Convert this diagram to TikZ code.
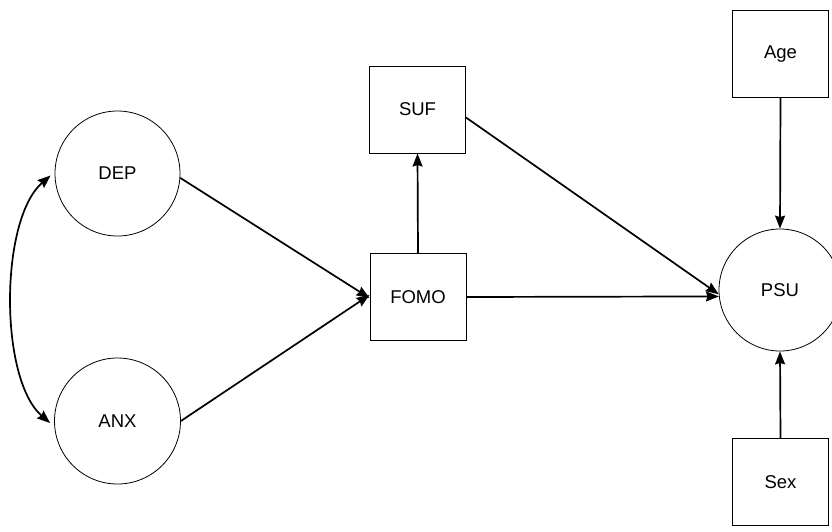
\documentclass[tikz,border=0pt]{standalone}
\usepackage{fontspec}
\setmainfont{Liberation Sans}
\usetikzlibrary{arrows.meta}
\begin{document}
\begin{tikzpicture}[x=1pt,y=-1pt,
  every node/.style={font=\fontsize{18.5}{20}\selectfont, text=black},
  latent/.style={draw, circle, line width=0.8pt, inner sep=0pt},
  observed/.style={draw, rectangle, line width=1pt, inner sep=0pt, minimum width=96pt, minimum height=87pt},
  path/.style={line width=1.7pt, -{Stealth[length=13pt,width=10pt,inset=1.5pt]}},
  cov/.style={line width=1.7pt, {Stealth[length=13pt,width=10pt,inset=1.5pt]}-{Stealth[length=13pt,width=10pt,inset=1.5pt]}}
]
\useasboundingbox (0,0) rectangle (832,531);
\clip (0,0) rectangle (832,531);
\node[latent, minimum size=125pt] (DEP) at (117.5,173.5) {DEP};
\node[latent, minimum size=126pt] (ANX) at (117.5,421) {ANX};
\node[observed] (FOMO) at (418,297) {FOMO};
\node[observed] (SUF) at (417.5,109.5) {SUF};
\node[observed] (Age) at (780.5,54) {Age};
\node[observed] (Sex) at (780.5,482) {Sex};
\node[latent, minimum size=122pt] (PSU) at (780,290) {PSU};

\draw[path] (DEP.-4) -- ([yshift=-1pt]FOMO.west);
\draw[path] (ANX.east) -- ([yshift=2pt]FOMO.west);
\draw[path] (FOMO.north) -- (SUF.south);
\draw[path] ([yshift=-8pt]SUF.east) -- (PSU.184);
\draw[path] (FOMO.east) -- (PSU.186.6);
\draw[path] (Age.south) -- (PSU.north);
\draw[path] (Sex.north) -- (PSU.south);
\draw[cov] ([xshift=-4pt,yshift=-2pt]DEP.west) .. controls +(-51,44) and +(-51,-44) .. ([xshift=-4pt,yshift=-2pt]ANX.west);
\end{tikzpicture}
\end{document}
